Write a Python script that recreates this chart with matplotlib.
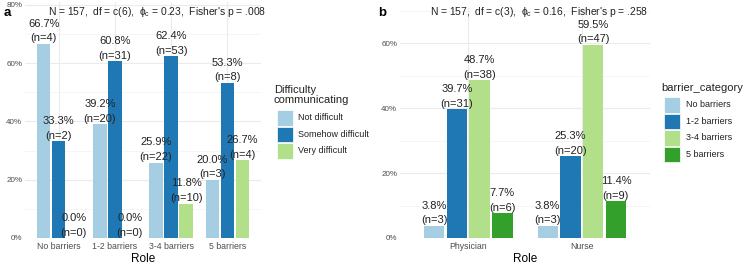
import matplotlib
matplotlib.use('Agg')
import matplotlib.pyplot as plt
from matplotlib.patches import Rectangle
import numpy as np

plt.rcParams['font.family'] = ['Liberation Sans', 'DejaVu Sans']
plt.rcParams['mathtext.fontset'] = 'custom'
plt.rcParams['mathtext.rm'] = 'Liberation Sans'
plt.rcParams['mathtext.it'] = 'Liberation Sans'

# ---- data: panel a (difficulty communicating by barrier category) ----
a_cats = ['No barriers', '1-2 barriers', '3-4 barriers', '5 barriers']
a_groups = ['Not difficult', 'Somehow difficult', 'Very difficult']
a_pct = [
    [66.7, 39.2, 25.9, 20.0],
    [33.3, 60.8, 62.4, 53.3],
    [0.0, 0.0, 11.8, 26.7],
]
a_n = [
    [4, 20, 22, 3],
    [2, 31, 53, 8],
    [0, 0, 10, 4],
]
a_title = "N = 157,  df = c(6),  $\\phi_{\\mathrm{c}}$ = 0.23,  Fisher's p = .008"

# ---- data: panel b (barrier category by role) ----
b_cats = ['Physician', 'Nurse']
b_groups = ['No barriers', '1-2 barriers', '3-4 barriers', '5 barriers']
b_pct = [
    [3.8, 3.8],
    [39.7, 25.3],
    [48.7, 59.5],
    [7.7, 11.4],
]
b_n = [
    [3, 3],
    [31, 20],
    [38, 47],
    [6, 9],
]
b_title = "N = 157,  df = c(3),  $\\phi_{\\mathrm{c}}$ = 0.16,  Fisher's p = .258"

colors = ['#A6CEE3', '#1F78B4', '#B2DF8A', '#33A02C']

W, H = 750, 268
fig = plt.figure(figsize=(7.5, 2.68), dpi=100)


def px(x, y):
    return x / W, 1 - y / H


def panel(rect, cats, groups, pct, ns, ymax, yticks):
    ax = fig.add_axes(rect)
    k = len(groups)
    step = 0.8 / k
    x = np.arange(len(cats))
    for i in range(k):
        xs = x + (i - (k - 1) / 2) * step
        ax.bar(xs, pct[i], width=step * 0.9, color=colors[i], zorder=2)
        for xi, p, n in zip(xs, pct[i], ns[i]):
            ax.annotate(f'(n={n})', (xi, p), xytext=(0, 3.8), textcoords='offset points',
                        ha='center', va='center', fontsize=8, color='#222222', zorder=3)
            ax.annotate(f'{p:.1f}%', (xi, p), xytext=(0, 14.5), textcoords='offset points',
                        ha='center', va='center', fontsize=8, color='#222222', zorder=3,
                        annotation_clip=False)
    ax.set_xlim(-0.6, len(cats) - 0.4)
    ax.set_ylim(0, ymax)
    ax.set_xticks(x)
    ax.set_xticklabels(cats, fontsize=6.3, color='#4D4D4D')
    ax.set_yticks(yticks)
    ax.set_yticklabels([f'{t}%' for t in yticks], fontsize=5.8, color='#4D4D4D')
    ax.set_yticks([t + 10 for t in yticks if t + 10 < ymax], minor=True)
    ax.tick_params(which='both', length=0, pad=2)
    ax.tick_params(axis='x', pad=3)
    ax.grid(True, which='major', color='#EBEBEB', lw=0.8, zorder=0)
    ax.grid(True, which='minor', axis='y', color='#F2F2F2', lw=0.5, zorder=0)
    ax.set_axisbelow(True)
    for s in ax.spines.values():
        s.set_visible(False)
    ax.set_xlabel('Role', fontsize=8.5, labelpad=1)
    ax.patch.set_alpha(0)
    return ax


ax_a = panel([25 / W, 30 / H, 236 / W, 236 / H], a_cats, a_groups, a_pct, a_n,
             81, [0, 20, 40, 60, 80])
ax_b = panel([400 / W, 30 / H, 250 / W, 230 / H], b_cats, b_groups, b_pct, b_n,
             70.8, [0, 20, 40, 60])

# titles and panel tags
fig.text(*px(157, 12), a_title, ha='center', va='center', fontsize=7.4, color='#222222')
fig.text(*px(539, 12), b_title, ha='center', va='center', fontsize=7.4, color='#222222')
fig.text(*px(4, 13), 'a', ha='left', va='center', fontsize=9.5, fontweight='bold')
fig.text(*px(378, 13), 'b', ha='left', va='center', fontsize=9.5, fontweight='bold')


def legend(x0, y_title, title, labels, y0, key=15.5):
    fig.text(*px(x0 - 3, y_title), title, ha='left', va='center', fontsize=8,
             linespacing=1.0, color='#222222')
    for i, lab in enumerate(labels):
        y = y0 + i * (key + 1)
        fx, fy = px(x0, y + key)
        fig.add_artist(Rectangle((fx, fy), key / W, key / H, transform=fig.transFigure,
                                 facecolor=colors[i], edgecolor='white', lw=0.5))
        fig.text(*px(x0 + key + 6, y + key / 2), lab, ha='left', va='center',
                 fontsize=6.5, color='#222222')


legend(277, 95, 'Difficulty\ncommunicating', a_groups, 110)
legend(664, 88, 'barrier_category', b_groups, 97)

fig.savefig('out.png', dpi=100, facecolor='white')
